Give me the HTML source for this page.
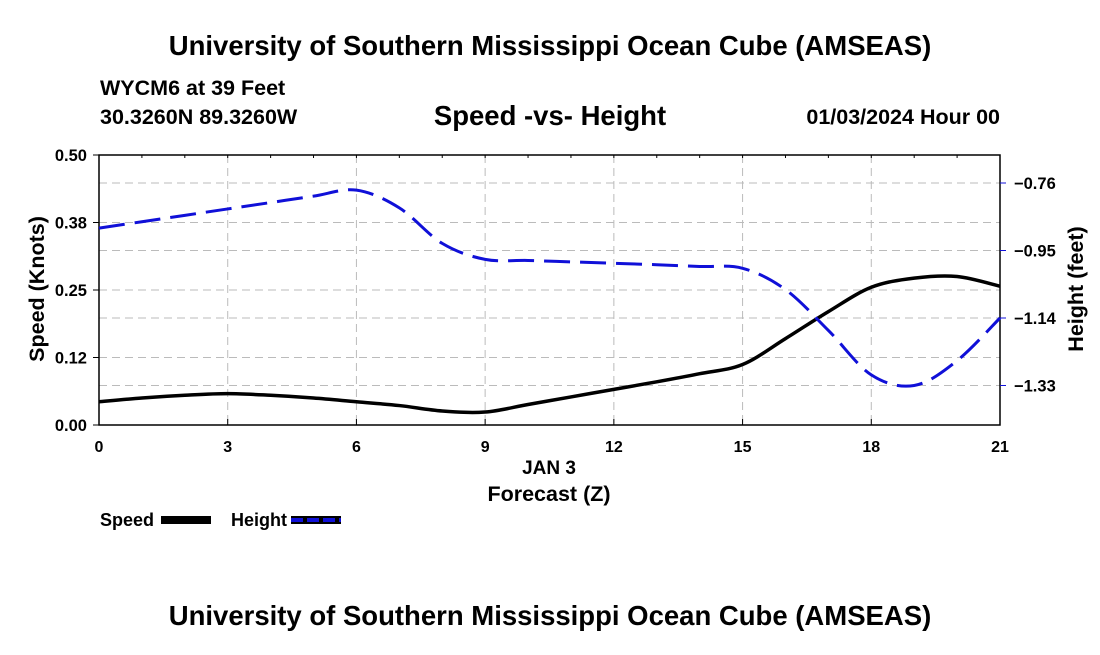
<!DOCTYPE html>
<html><head><meta charset="utf-8"><style>
body{margin:0;background:#fff;width:1100px;height:650px;overflow:hidden}
svg{font-family:"Liberation Sans",Arial,sans-serif;font-weight:bold}
</style></head><body>
<svg id="c" width="1100" height="650">
<text x="550" y="55" text-anchor="middle" font-size="27.5">University of Southern Mississippi Ocean Cube (AMSEAS)</text>
<text x="100" y="95" font-size="21.5">WYCM6 at 39 Feet</text>
<text x="100" y="124" font-size="21.5">30.3260N  89.3260W</text>
<text x="550" y="125" text-anchor="middle" font-size="27.5">Speed -vs- Height</text>
<text x="1000" y="124" text-anchor="end" font-size="21.5">01/03/2024 Hour 00</text>
<g id="grid"></g>
<rect x="99" y="155" width="901" height="270" fill="none" stroke="#000" stroke-width="1.5"/>
<g id="axes"></g>
<path id="speed" fill="none" stroke="#000" stroke-width="3.5"/>
<path id="height" fill="none" stroke="#1010d8" stroke-width="3" stroke-dasharray="26,10"/>
<text x="549" y="474" text-anchor="middle" font-size="19">JAN 3</text>
<text x="549" y="501" text-anchor="middle" font-size="21.5">Forecast (Z)</text>
<text transform="translate(44,289) rotate(-90)" text-anchor="middle" font-size="21.5">Speed (Knots)</text>
<text transform="translate(1083,289) rotate(-90)" text-anchor="middle" font-size="21.5">Height (feet)</text>
<g>
<text x="100" y="526" font-size="18">Speed</text>
<rect x="161" y="516" width="50" height="8" fill="#000"/>
<text x="231" y="526" font-size="18">Height</text>
<rect x="291" y="516" width="50" height="8" fill="#000"/>
<line x1="291" y1="520" x2="341" y2="520" stroke="#1010d8" stroke-width="4" stroke-dasharray="12,4"/>
</g>
<text x="550" y="625" text-anchor="middle" font-size="27.5">University of Southern Mississippi Ocean Cube (AMSEAS)</text>
</svg>
<script>
const hours=[0,1,2,3,4,5,6,7,8,9,10,11,12,13,14,15,16,17,18,19,20,21];
const speedVals=[0.043,0.050,0.055,0.058,0.055,0.050,0.043,0.036,0.026,0.024,0.038,0.052,0.066,0.080,0.095,0.112,0.160,0.210,0.255,0.272,0.275,0.257];
const heightVals=[-0.887,-0.869,-0.851,-0.833,-0.815,-0.797,-0.780,-0.830,-0.930,-0.975,-0.978,-0.982,-0.986,-0.990,-0.995,-1.000,-1.060,-1.175,-1.300,-1.330,-1.260,-1.140];
const xTicks=[0,3,6,9,12,15,18,21];
const leftTicks=[0,0.125,0.25,0.375,0.5];
const leftLabels=["0.00","0.12","0.25","0.38","0.50"];
const rightTicks=[-0.76,-0.95,-1.14,-1.33];
const rightLabels=["\u22120.76","\u22120.95","\u22121.14","\u22121.33"];
const X0=99,X1=1000,Y0=425,Y1=155;
const xs=h=>X0+(h/21)*(X1-X0);
const yL=v=>Y0-(v/0.5)*(Y0-Y1);
const yR=v=>183+(-0.76-v)/0.19*67.5;
const NS="http://www.w3.org/2000/svg";
function mk(t,a,p){const e=document.createElementNS(NS,t);for(const k in a)e.setAttribute(k,a[k]);p.appendChild(e);return e;}
const g=document.getElementById('grid'),ax=document.getElementById('axes');
xTicks.forEach(h=>{
 const l=mk('line',{x1:xs(h),x2:xs(h),y1:Y1,y2:Y0,stroke:'#bbb','stroke-dasharray':'8,5'},g);
 
 
 const t=mk('text',{x:xs(h),y:452,'text-anchor':'middle','font-size':16},ax);t.textContent=h;
 
 
 mk('line',{x1:xs(h),x2:xs(h),y1:Y0,y2:Y0-6,stroke:'#000'},ax);
});
for(let h=0;h<=21;h++){mk('line',{x1:xs(h),x2:xs(h),y1:Y1,y2:Y1+3,stroke:'#000'},ax);}
leftTicks.forEach((v,i)=>{
 if(v>0&&v<0.5){const l=mk('line',{x1:X0,x2:X1,y1:yL(v),y2:yL(v),stroke:'#bbb','stroke-dasharray':'8,5'},g);
 
 }
 mk('line',{x1:X0-6,x2:X0,y1:yL(v),y2:yL(v),stroke:'#000'},ax);
 const t=mk('text',{x:X0-12,y:yL(v)+6,'text-anchor':'end','font-size':16.5},ax);t.textContent=leftLabels[i];
 
 
});
rightTicks.forEach((v,i)=>{
 const l=mk('line',{x1:X0,x2:X1,y1:yR(v),y2:yR(v),stroke:'#bbb','stroke-dasharray':'8,5'},g);
 
 
 mk('line',{x1:X1,x2:X1+6,y1:yR(v),y2:yR(v),stroke:'#1010d8'},ax);
 const t=mk('text',{x:X1+14,y:yR(v)+6,'font-size':16.5},ax);t.textContent=rightLabels[i];
 
 
});
function smooth(pts){let d='M'+pts[0][0]+','+pts[0][1];
 for(let i=0;i<pts.length-1;i++){const p0=pts[Math.max(0,i-1)],p1=pts[i],p2=pts[i+1],p3=pts[Math.min(pts.length-1,i+2)];
  d+=' C'+(p1[0]+(p2[0]-p0[0])/6)+','+(p1[1]+(p2[1]-p0[1])/6)+' '+(p2[0]-(p3[0]-p1[0])/6)+','+(p2[1]-(p3[1]-p1[1])/6)+' '+p2[0]+','+p2[1];}
 return d;}
document.getElementById('speed').setAttribute('d',smooth(hours.map((h,i)=>[xs(h),yL(speedVals[i])])));
document.getElementById('height').setAttribute('d',smooth(hours.map((h,i)=>[xs(h),yR(heightVals[i])])));
</script>
</body></html>
